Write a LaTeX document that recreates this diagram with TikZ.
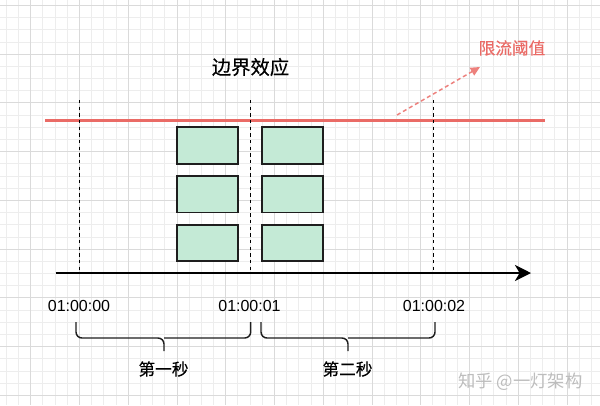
\documentclass[tikz,border=0pt]{standalone}
\usepackage{fontspec}
\setmainfont{Liberation Sans}
\newfontfamily\cjk[FakeBold=0.3]{Noto Sans CJK SC}
\newfontfamily\cjkw{Noto Sans CJK SC}
\usetikzlibrary{arrows.meta}
\definecolor{redline}{HTML}{EA6B66}
\definecolor{boxfill}{HTML}{C4EAD6}
\definecolor{boxline}{HTML}{1E1E1E}
\definecolor{gridminor}{HTML}{EDEDED}
\definecolor{gridmajor}{HTML}{DADADA}
\definecolor{wmark}{HTML}{BDBDBD}
\begin{document}
\begin{tikzpicture}[x=0.75pt,y=-0.75pt,
  slotbox/.style={draw=boxline,fill=boxfill,line width=1.2pt,minimum width=45.7pt,minimum height=27.4pt,inner sep=0pt},
  timelabel/.style={font=\fontsize{12}{14}\selectfont,inner sep=0pt},
  cjklabel/.style={font=\cjk\fontsize{12.5}{15}\selectfont,inner sep=0pt},
  bounddash/.style={line width=1pt,dash pattern=on 2.5pt off 2.5pt},
  bracestyle/.style={line width=1.1pt,draw=boxline,rounded corners=4.5pt}]
\useasboundingbox (0,0) rectangle (600,405);
\fill[white] (0,0) rectangle (600,405);
% grid
\foreach \i in {0,...,48} \draw[gridminor,line width=0.5pt] ({6.225+12.1875*\i},0) -- ++(0,405);
\foreach \i in {0,...,32} \draw[gridminor,line width=0.5pt] (0,{5.3+12.1875*\i}) -- ++(600,0);
\foreach \i in {0,...,11} \draw[gridmajor,line width=0.5pt] ({30.6+48.75*\i},0) -- ++(0,405);
\foreach \i in {0,...,8} \draw[gridmajor,line width=0.5pt] (0,{5.3+48.75*\i}) -- ++(600,0);

% title and threshold label
\node[cjklabel,font=\cjk\fontsize{14.5}{17}\selectfont] (title) at (250.5,67) {边界效应};
\node[cjklabel,text=redline] (thr) at (512,48) {限流阈值};

% threshold line
\coordinate (rl) at (45,120.5);
\coordinate (rr) at (545,120.5);
\draw[redline,line width=1.6pt] (rl) -- (rr);

% dashed pointer to label
\coordinate (pa) at (397,115);
\coordinate (pb) at (480,67);
\draw[redline!85,line width=1.1pt,dash pattern=on 3pt off 2.2pt,-{Triangle[length=7pt,width=6.5pt]}] (pa) -- (pb);

% boundary dashed lines
\coordinate (d0t) at (79.3,100);  \coordinate (d0b) at (79.3,270);
\coordinate (d1t) at (250.5,100); \coordinate (d1b) at (250.5,270);
\coordinate (d2t) at (433.3,100); \coordinate (d2b) at (433.3,270);
\draw[bounddash] (d0t) -- (d0b);
\draw[bounddash] (d1t) -- (d1b);
\draw[bounddash] (d2t) -- (d2b);

% request boxes
\node[slotbox] (a1) at (207.3,145.5) {};
\node[slotbox] (a2) at (207.3,194.2) {};
\node[slotbox] (a3) at (207.3,243) {};
\node[slotbox] (b1) at (292.7,145.5) {};
\node[slotbox] (b2) at (292.7,194.2) {};
\node[slotbox] (b3) at (292.7,243) {};

% time axis
\coordinate (ax0) at (55.5,273);
\coordinate (ax1) at (531,273);
\draw[line width=2pt,-{Stealth[length=12pt,width=12pt,inset=3.5pt]}] (ax0) -- (ax1);

% time labels
\node[timelabel] (t0) at (79,306) {01:00:00};
\node[timelabel] (t1) at (249.5,306) {01:00:01};
\node[timelabel] (t2) at (434,306) {01:00:02};

% braces
\draw[bracestyle] (76,322) -- (76,338) -- (164,338) -- (164,351);
\draw[bracestyle] (250.7,322) -- (250.7,338) -- (164,338);
\draw[bracestyle] (261,322) -- (261,338) -- (348,338) -- (348,351);
\draw[bracestyle] (435,322) -- (435,338) -- (348,338);

\node[cjklabel] (s1) at (163.5,369) {第一秒};
\node[cjklabel] (s2) at (347.5,369) {第二秒};

% watermark
\node[inner sep=0pt,font=\cjkw\fontsize{13}{15}\selectfont,text=wmark] (wm) at (520.5,381.5) {知乎 @一灯架构};
\end{tikzpicture}
\end{document}
